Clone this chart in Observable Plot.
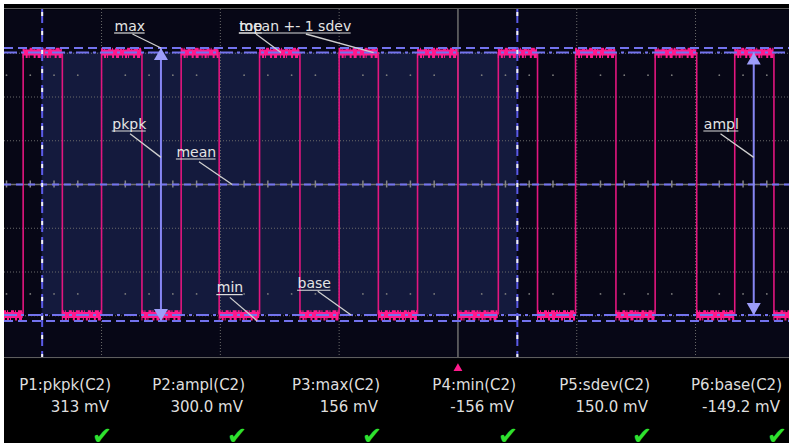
<!DOCTYPE html>
<html><head><meta charset="utf-8">
<script src="https://cdn.jsdelivr.net/npm/d3@7"></script>
<script src="https://cdn.jsdelivr.net/npm/@observablehq/plot@0.6"></script>
<style>
html,body{margin:0;padding:0;background:#fff;width:789px;height:443px;overflow:hidden;}
#scope{position:absolute;left:4px;top:4px;width:785px;height:439px;background:#000;overflow:hidden;}
#topline{position:absolute;left:0;top:4px;width:785px;height:1px;background:#5e5e5e;}
#chart{position:absolute;left:0;top:5px;}
#botline{position:absolute;left:0;top:353px;width:785px;height:1px;background:#5e5e5e;}
.cell{position:absolute;width:170px;text-align:right;font-family:"DejaVu Sans";font-size:15px;line-height:18px;color:#dedede;white-space:nowrap;}
.chk{position:absolute;width:30px;text-align:center;font-family:"DejaVu Sans";font-size:24px;line-height:26px;color:#2fe02f;}
</style>
</head><body>
<div id="scope"><div id="topline"></div><div id="chart"></div><div id="botline"></div><div id="panel"></div></div>
<script>
// ---- data (time in divisions from trigger, voltage in mV) ----
const xDomain = [-3.817, 2.791];
const yDomain = [-200, 200];
const gridTimes = [-3, -2, -1, 1, 2];
const gridLevels = [-150, -100, -50, 50, 100, 150];
const dotRowLevels = [125, -125];
const edgeTimes = [-3.66, -3.33, -3.00, -2.66, -2.33, -2.01, -1.67, -1.33, -1.00, -0.67,
                   -0.34, 0.00, 0.34, 0.67, 0.99, 1.33, 1.66, 2.01, 2.33, 2.66];
const topLevel = 150.8, baseLevel = -149.2, maxLevel = 156, minLevel = -156, meanLevel = 0;
const cursorTimes = [-3.50, 0.50];
const arrowNames = ["pkpk", "ampl"];
const arrowTimes = [-2.50, 2.49];
const arrowLow = [minLevel, baseLevel];
const arrowHigh = [maxLevel, topLevel];
const annLabel = ["max", "top", "mean +- 1 sdev", "pkpk", "mean", "min", "base", "ampl"];
const annTime  = [-2.89, -1.84, -1.84, -2.91, -2.37, -2.03, -1.35, 2.07];
const annLevel = [176, 176, 176, 64, 32, -123, -118, 64];
const leadFromT = [-2.74, -1.70, -1.28, -2.76, -2.18, -1.92, -1.18, 2.21];
const leadFromV = [172, 172, 172, 58, 26, -129, -122, 58];
const leadToT   = [-2.50, -1.49, -0.71, -2.50, -1.90, -1.69, -0.90, 2.49];
const leadToV   = [156, 150.8, 150.8, 31, 0, -156, -149.2, 31];
const paramLabels = ["P1:pkpk(C2)", "P2:ampl(C2)", "P3:max(C2)", "P4:min(C2)", "P5:sdev(C2)", "P6:base(C2)"];
const paramValues = ["313 mV", "300.0 mV", "156 mV", "-156 mV", "150.0 mV", "-149.2 mV"];
const paramStatus = ["ok", "ok", "ok", "ok", "ok", "ok"];

// ---- derived tables ----
const plotW = 785;
const pxPerDiv = plotW / (xDomain[1] - xDomain[0]);
const ctx = document.createElement("canvas").getContext("2d");
ctx.font = "14px 'DejaVu Sans'";
const bounds = [xDomain[0], ...edgeTimes, xDomain[1]];
const segs = d3.range(bounds.length - 1).map(i => ({x1: bounds[i], x2: bounds[i + 1], y: i % 2 === 0 ? baseLevel : topLevel}));
const edges = edgeTimes.map(t => ({x: t}));
const gate = [{x1: cursorTimes[0], x2: cursorTimes[1], y1: baseLevel, y2: topLevel}];
const minorT = d3.range(-19, 14).map(i => +(i * 0.2).toFixed(2)).filter(v => Math.abs(v - Math.round(v)) > 1e-6);
const dots = minorT.flatMap(t => dotRowLevels.map(v => ({t, v})));
const arrows = arrowNames.map((n, i) => ({n, t: arrowTimes[i], lo: arrowLow[i], hi: arrowHigh[i]}));
const ann = annLabel.map((l, i) => ({label: l, x: annTime[i], y: annLevel[i], fx: leadFromT[i], fy: leadFromV[i], tx: leadToT[i], ty: leadToV[i],
  xe: annTime[i] + ctx.measureText(l).width / pxPerDiv}));

const blue = "#7373ee";
const pink = "#ff1a8c";

const plot = Plot.plot({
  width: plotW, height: 434,
  marginTop: 0, marginRight: 0, marginLeft: 0, marginBottom: 85,
  x: {domain: xDomain, range: [0, plotW], axis: null},
  y: {domain: yDomain, range: [350, 0], axis: null},
  style: {background: "#000", overflow: "visible"},
  marks: [
    Plot.frame({fill: "#070716", stroke: null}),
    Plot.rect(gate, {x1: "x1", x2: "x2", y1: "y1", y2: "y2", fill: "#141a3d"}),
    Plot.ruleY(gridLevels, {stroke: "#6a6a6a", strokeWidth: 1, strokeDasharray: "1,2"}),
    Plot.ruleX(gridTimes, {stroke: "#6a6a6a", strokeWidth: 1, strokeDasharray: "1,2"}),
    Plot.dot(dots, {x: "t", y: "v", r: 0.9, fill: "#7a7a7a", stroke: null}),
    Plot.ruleX([0], {stroke: "#6e6e6e", strokeWidth: 1.5}),
    Plot.ruleY([0], {stroke: "#6e6e6e", strokeWidth: 1.5}),
    Plot.ruleX(minorT, {x: d => d, y1: -4, y2: 4, stroke: "#858585", strokeWidth: 1.5}),
    // waveform
    Plot.ruleX(edges, {x: "x", y1: baseLevel, y2: topLevel, stroke: "#e3167f", strokeWidth: 1.6}),
    Plot.ruleY(segs, {x1: "x1", x2: "x2", y: "y", stroke: pink, strokeWidth: 6}),
    Plot.ruleY(segs, {x1: "x1", x2: "x2", y: "y", dy: -3.5, stroke: pink, strokeWidth: 2.5, strokeDasharray: "2,1,1,3,3,1,1,2,4,1"}),
    Plot.ruleY(segs, {x1: "x1", x2: "x2", y: "y", dy: 4, stroke: pink, strokeWidth: 3, strokeDasharray: "1,2,2,1,1,4,2,2,3,3"}),
    // measurement levels
    Plot.ruleY([maxLevel, minLevel], {stroke: blue, strokeWidth: 2, strokeDasharray: "9,5"}),
    Plot.ruleY([topLevel, baseLevel], {stroke: blue, strokeWidth: 2, strokeDasharray: "13,4,3,4"}),
    Plot.ruleY([meanLevel], {stroke: blue, strokeWidth: 2, strokeDasharray: "7,5"}),
    // cursors
    Plot.ruleX(cursorTimes, {stroke: "#5b5be8", strokeWidth: 2, strokeDasharray: "14,5"}),
    Plot.ruleX(cursorTimes, {stroke: "#f2f2f2", strokeWidth: 2, strokeDasharray: "4,15", strokeDashoffset: -22}),
    // arrows
    Plot.ruleX(arrows, {x: "t", y1: "lo", y2: "hi", stroke: "#8686f3", strokeWidth: 2}),
    Plot.dot(arrows, {x: "t", y: "hi", symbol: "triangle", r: 5.2, dy: 8, fill: "#9d9df9", stroke: null}),
    Plot.dot(arrows, {x: "t", y: "lo", symbol: "triangle", r: 5.2, rotate: 180, dy: -8, fill: "#9d9df9", stroke: null}),
    // annotations
    Plot.link(ann, {x1: "fx", y1: "fy", x2: "tx", y2: "ty", stroke: "#cfcfcf", strokeWidth: 1.3}),
    Plot.ruleY(ann, {x1: "x", x2: "xe", y: "y", dy: 2.5, stroke: "#dcdcdc", strokeWidth: 1.2}),
    Plot.text(ann, {x: "x", y: "y", text: "label", textAnchor: "start", lineAnchor: "bottom", fill: "#e4e4e4", fontSize: 14, fontFamily: "DejaVu Sans"}),
    // trigger marker
    Plot.dot([0], {x: d => d, y: () => yDomain[0], symbol: "triangle", r: 3.3, dy: 9, fill: pink, stroke: null})
  ]
});
document.getElementById("chart").appendChild(plot);

// ---- measurement panel ----
const colRight = [107, 241, 376, 512, 646, 778];
const chkCenter = [98, 233, 368, 504, 638, 773];
const panel = document.getElementById("panel");
paramLabels.forEach((lab, i) => {
  const a = document.createElement("div");
  a.className = "cell"; a.textContent = lab;
  a.style.left = (colRight[i] - 170) + "px"; a.style.top = "372px";
  panel.appendChild(a);
  const b = document.createElement("div");
  b.className = "cell"; b.textContent = paramValues[i];
  b.style.left = (colRight[i] - 172) + "px"; b.style.top = "394px";
  panel.appendChild(b);
  if (paramStatus[i] === "ok") {
    const c = document.createElement("div");
    c.className = "chk"; c.textContent = "\u2714";
    c.style.left = (chkCenter[i] - 15) + "px"; c.style.top = "419px";
    panel.appendChild(c);
  }
});
</script>
</body></html>
